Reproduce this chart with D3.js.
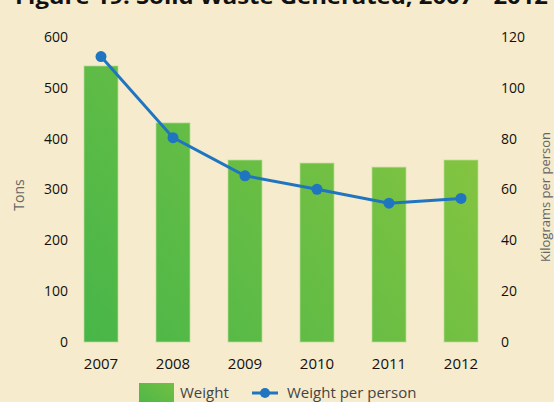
<!DOCTYPE html>
<html lang="en">
<head>
<meta charset="utf-8">
<title>Solid Waste Generated</title>
<script src="https://d3js.org/d3.v7.min.js"></script>
<style>
  body { margin: 0; background: #f6ebcc; }
  svg { display: block; font-family: "Open Sans", "Noto Sans", sans-serif; }
</style>
</head>
<body>
<svg id="chart" width="554" height="402"></svg>
<script>
// data
const years = ["2007", "2008", "2009", "2010", "2011", "2012"];
const weight = [543, 431, 358, 352, 344, 358];          // tons
const perPerson = [112.3, 80.4, 65.4, 60.1, 54.6, 56.5]; // kg per person
const leftTicks = [0, 100, 200, 300, 400, 500, 600];
const rightTicks = [0, 20, 40, 60, 80, 100, 120];

const svg = d3.select("#chart");
const width = +svg.attr("width"), height = +svg.attr("height");

svg.append("rect").attr("width", width).attr("height", height).attr("fill", "#f6ebcc");

// green gradient for bars
const defs = svg.append("defs");
const grad = defs.append("linearGradient")
    .attr("id", "barGrad")
    .attr("gradientUnits", "userSpaceOnUse")
    .attr("x1", 84).attr("y1", 342).attr("x2", 478).attr("y2", 60);
grad.append("stop").attr("offset", "0%").attr("stop-color", "#47b649");
grad.append("stop").attr("offset", "100%").attr("stop-color", "#8cc63f");

const legGrad = defs.append("linearGradient")
    .attr("id", "legGrad")
    .attr("x1", "0%").attr("y1", "100%").attr("x2", "100%").attr("y2", "0%");
legGrad.append("stop").attr("offset", "0%").attr("stop-color", "#4bb648");
legGrad.append("stop").attr("offset", "100%").attr("stop-color", "#72bf44");

let x = d3.scaleBand()
    .domain(years)
    .range([65, 497])
    .paddingInner(0.528)
    .paddingOuter(0.264);

let yL = d3.scaleLinear().domain([0, 600]).range([342, 37]);
let yR = d3.scaleLinear().domain([0, 120]).range([342, 37]);

// title (cut off at the top in the original)
svg.append("text")
    .attr("x", 15)
    .attr("y", 4)
    .attr("font-size", 22)
    .attr("font-weight", "bold")
    .attr("fill", "#111")
    .attr("textLength", 533)
    .attr("lengthAdjust", "spacingAndGlyphs")
    .text("Figure 19: Solid Waste Generated, 2007 - 2012");

// bars
svg.selectAll(".bar")
    .data(years)
    .enter()
    .append("rect")
    .attr("class", "bar")
    .attr("x", d => x(d))
    .attr("width", x.bandwidth())
    .attr("y", (d, i) => yL(weight[i]))
    .attr("height", (d, i) => yL(0) - yL(weight[i]))
    .attr("fill", "url(#barGrad)")
    .attr("stroke", "#b9de95")
    .attr("stroke-opacity", 0.7)
    .attr("stroke-width", 1);

// axes
const axL = svg.append("g")
    .attr("transform", "translate(68,0)")
    .call(d3.axisLeft(yL).tickValues(leftTicks).tickSize(0).tickPadding(0));
const axR = svg.append("g")
    .attr("transform", "translate(501,0)")
    .call(d3.axisRight(yR).tickValues(rightTicks).tickSize(0).tickPadding(0));
const axB = svg.append("g")
    .attr("transform", "translate(0,342)")
    .call(d3.axisBottom(x).tickSize(0).tickPadding(16));

[axL, axR, axB].forEach(g => {
    g.select(".domain").remove();
    g.selectAll("text")
        .attr("fill", "#111")
        .style("font-family", "'Open Sans', 'Noto Sans', sans-serif");
});
axL.selectAll("text").attr("font-size", 14);
axR.selectAll("text").attr("font-size", 14);
axB.selectAll("text").attr("font-size", 15);

// axis titles
svg.append("text")
    .attr("transform", "translate(24,195) rotate(-90)")
    .attr("text-anchor", "middle")
    .attr("font-size", 14)
    .attr("fill", "#666")
    .text("Tons");
svg.append("text")
    .attr("transform", "translate(550,197) rotate(-90)")
    .attr("text-anchor", "middle")
    .attr("font-size", 13)
    .attr("fill", "#666")
    .text("Kilograms per person");

// line
const cx = d => x(d) + x.bandwidth() / 2;
const line = d3.line()
    .x(d => cx(d))
    .y((d, i) => yR(perPerson[i]));

svg.append("path")
    .datum(years)
    .attr("d", line)
    .attr("fill", "none")
    .attr("stroke", "#1f75c0")
    .attr("stroke-width", 3);

svg.selectAll(".dot")
    .data(years)
    .enter()
    .append("circle")
    .attr("class", "dot")
    .attr("cx", d => cx(d))
    .attr("cy", (d, i) => yR(perPerson[i]))
    .attr("r", 5.5)
    .attr("fill", "#1f75c0");

// legend
const leg = svg.append("g");
leg.append("rect")
    .attr("x", 139).attr("y", 383)
    .attr("width", 35).attr("height", 25)
    .attr("fill", "url(#legGrad)");
leg.append("text")
    .attr("x", 180).attr("y", 398)
    .attr("font-size", 15)
    .attr("fill", "#444")
    .text("Weight");
leg.append("line")
    .attr("x1", 252).attr("x2", 278)
    .attr("y1", 393).attr("y2", 393)
    .attr("stroke", "#1f75c0")
    .attr("stroke-width", 3);
leg.append("circle")
    .attr("cx", 265).attr("cy", 393).attr("r", 5)
    .attr("fill", "#1f75c0");
leg.append("text")
    .attr("x", 287).attr("y", 398)
    .attr("font-size", 15)
    .attr("fill", "#444")
    .text("Weight per person");
</script>
</body>
</html>
